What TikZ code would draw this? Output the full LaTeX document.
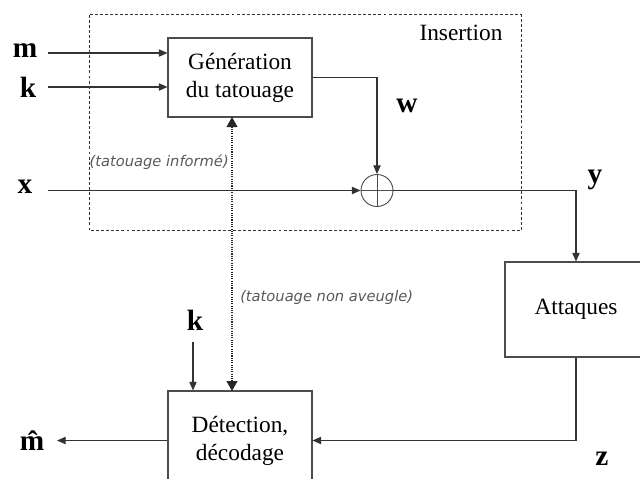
\documentclass[tikz,border=0pt]{standalone}
\usepackage{fontspec}
\setmainfont{Liberation Serif}
\newfontfamily\notefont{DejaVu Sans}
\usetikzlibrary{arrows.meta,calc}
\begin{document}
\begin{tikzpicture}[x=0.75pt,y=-0.75pt,
  box/.style={draw=black!70,line width=0.8pt,rectangle,inner sep=0pt,align=center,
    font=\fontsize{17.5pt}{21pt}\selectfont},
  lab/.style={font=\fontsize{22pt}{24pt}\selectfont\bfseries,inner sep=0pt},
  note/.style={font=\notefont\itshape\fontsize{11pt}{12pt}\selectfont,text=black!65,inner sep=0pt},
  arr/.style={draw=black!80,line width=0.8pt,-{Triangle[length=6.5pt,width=5.5pt]}},
  dots/.style={draw=black!85,line width=1.4pt,dash pattern=on 0.8pt off 0.9pt,
    {Triangle[length=7.5pt,width=8pt]}-{Triangle[length=7.5pt,width=8pt]}}]
\useasboundingbox (0,0) rectangle (640,479);
% Insertion area
\draw[black!80,line width=0.6pt,dash pattern=on 2.2pt off 1.6pt] (89,14.7) rectangle (521,230.5);
\node[font=\fontsize{17.5pt}{21pt}\selectfont,inner sep=0pt] (ins) at (461,33) {Insertion};
% Boxes
\node[box,minimum width=108pt,minimum height=59.25pt] (gen) at (240,77.5) {Génération\\du tatouage};
\node[box,minimum width=108pt,minimum height=74.25pt] (det) at (240,440.5) {Détection,\\décodage};
\node[box,minimum width=106.5pt,minimum height=71.25pt] (att) at (576,309.5) {Attaques};
\node[draw=black!70,line width=0.7pt,circle,minimum size=24pt,inner sep=0pt] (sum) at (377,190.5) {};
\draw[black!70,line width=0.7pt] (sum.north) -- (sum.south) (sum.west) -- (sum.east);
% Labels
\node[lab] (lm) at (25,51) {m};
\node[lab] (lk) at (28,87) {k};
\node[lab] (lx) at (25,187) {x};
\node[lab] (lw) at (407,106) {w};
\node[lab] (ly) at (595,180) {y};
\node[lab] (lk2) at (195,320) {k};
\node[lab] (lz) at (602,459) {z};
\node[lab,anchor=south] (lmh) at (32,451) {m̂};
\node[note,anchor=east] (ninf) at (229,162) {(tatouage informé)};
\node[note,anchor=west] (nav) at (240,297) {(tatouage non aveugle)};
% Connector start points
\coordinate (cm) at (48,53);
\coordinate (ck) at (48,87);
\coordinate (cx) at (48,190.5);
\coordinate (ck2) at (193,342);
\coordinate (cmh) at (57,440.5);
\coordinate (cdu) at (232,117);
\coordinate (cdd) at (232,391);
% Connectors
\draw[arr] (cm) -- (cm -| gen.west);
\draw[arr] (ck) -- (ck -| gen.west);
\draw[arr] (cx) -- (sum.west);
\draw[arr] (gen.east) -| (sum.north);
\draw[arr] (sum.east) -| (att.north);
\draw[arr] (att.south) |- (det.east);
\draw[arr] (det.west) -- (cmh);
\draw[arr] (ck2) -- (ck2 |- det.north);
\draw[dots] (cdu) -- (cdd);
\end{tikzpicture}
\end{document}
